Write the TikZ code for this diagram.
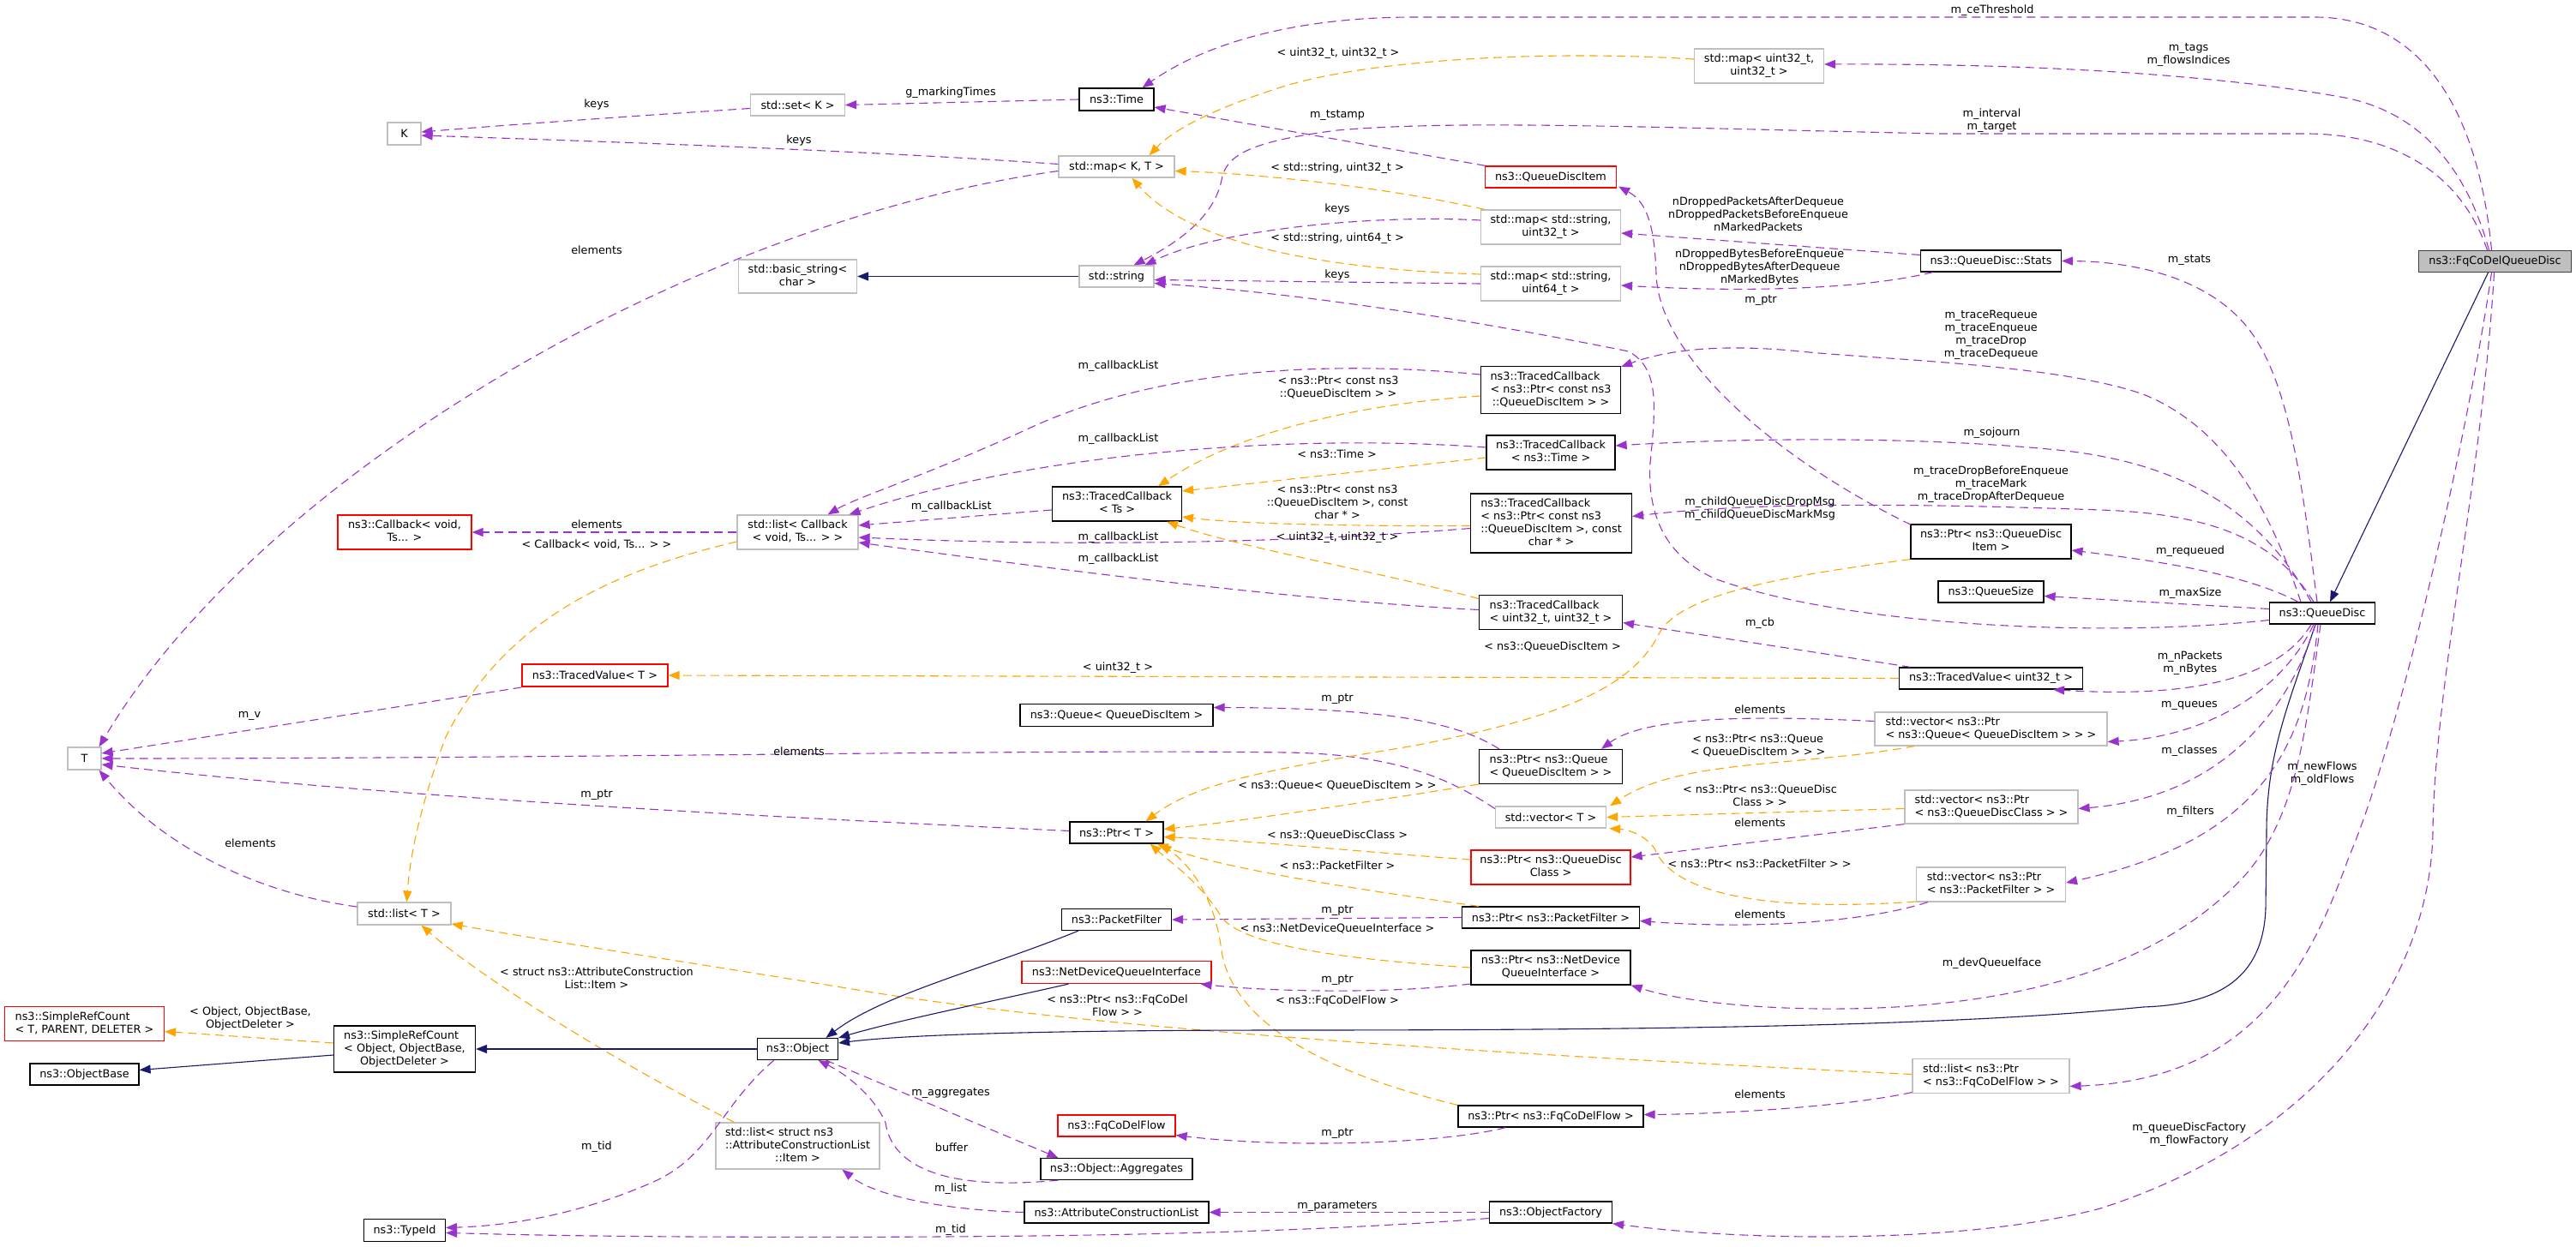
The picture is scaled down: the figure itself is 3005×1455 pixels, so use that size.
\documentclass[tikz,border=0pt]{standalone}
\usepackage{fontspec}
\setmainfont{DejaVu Sans}
\usetikzlibrary{arrows.meta}
\definecolor{purp}{HTML}{9A32CD}
\definecolor{orng}{HTML}{FFA500}
\definecolor{mnb}{HTML}{191970}
\definecolor{gbord}{HTML}{BFBFBF}
\definecolor{redb}{HTML}{FF0000}
\definecolor{fqfill}{HTML}{BFBFBF}
\definecolor{fqbord}{HTML}{404040}
\newcommand{\dxfont}{\fontsize{12.8pt}{15pt}\selectfont}
\newcommand{\twol}[2]{\begin{tabular}{@{}l@{}}#1\\\multicolumn{1}{@{}c@{}}{#2}\end{tabular}}
\newcommand{\thrl}[3]{\begin{tabular}{@{}l@{}}#1\\#2\\\multicolumn{1}{@{}c@{}}{#3}\end{tabular}}
\newcommand{\fourl}[4]{\begin{tabular}{@{}l@{}}#1\\#2\\#3\\\multicolumn{1}{@{}c@{}}{#4}\end{tabular}}
\begin{document}
\begin{tikzpicture}[x=1pt,y=-1pt,
 box/.style={rectangle, inner sep=0pt, fill=white, font=\dxfont, line width=1.2pt},
 doc/.style={box, draw=black},
 und/.style={box, draw=gbord},
 rbox/.style={box, draw=redb},
 mainbox/.style={box, draw=fqbord, fill=fqfill},
 sz/.style 2 args={minimum width=#1pt, minimum height=#2pt},
 lbl/.style={font=\dxfont, align=center, inner sep=0pt},
 usg/.style={draw=purp, line width=1.1pt, dash pattern=on 10pt off 6pt, -{Triangle[length=13pt,width=10pt]}},
 tpl/.style={draw=orng, line width=1.1pt, dash pattern=on 10pt off 6pt, -{Triangle[length=13pt,width=10pt]}},
 inh/.style={draw=mnb, line width=1.1pt, -{Triangle[length=13pt,width=10pt]}}]
\path[use as bounding box, fill=white] (0,0) rectangle (3005,1455);

% ---------------- nodes
\node[und,sz={39}{26}] (T) at (98.5,885) {T};
\node[und,sz={39}{26}] (K) at (471.5,156) {K};
\node[und,sz={110}{25}] (set) at (930.5,122.5) {std::set< K >};
\node[doc,sz={87}{26}] (time) at (1302.5,116) {ns3::Time};
\node[und,sz={135}{25}] (mapKT) at (1302.5,194.5) {std::map< K, T >};
\node[und,sz={138}{39}] (bstr) at (930.5,322.5) {\twol{std::basic\_string<}{char >}};
\node[und,sz={87}{25}] (str) at (1302.5,322.5) {std::string};
\node[und,sz={151}{40}] (mapuu) at (2052,77) {\twol{std::map< uint32\_t,}{uint32\_t >}};
\node[rbox,sz={153}{25}] (qdi) at (1809,206.5) {ns3::QueueDiscItem};
\node[und,sz={163}{40}] (mapsu) at (1809,265) {\twol{std::map< std::string,}{uint32\_t >}};
\node[und,sz={163}{40}] (mapsl) at (1809,331) {\twol{std::map< std::string,}{uint64\_t >}};
\node[doc,sz={163}{55}] (tcqdi) at (1809,455) {\thrl{ns3::TracedCallback}{< ns3::Ptr< const ns3}{::QueueDiscItem > >}};
\node[doc,sz={164}{25}] (stats) at (2322.5,304.5) {ns3::QueueDisc::Stats};
\node[mainbox,sz={178}{25}] (fq) at (2910.5,305) {ns3::FqCoDelQueueDisc};
\node[rbox,sz={156}{40}] (cb) at (472,621) {\twol{ns3::Callback< void,}{Ts... >}};
\node[rbox,sz={170}{26}] (tvT) at (694,788) {ns3::TracedValue< T >};
\node[und,sz={141}{40}] (list) at (930.5,621) {\twol{std::list< Callback}{< void, Ts... > >}};
\node[doc,sz={151}{40}] (tcTs) at (1303,588) {\twol{ns3::TracedCallback}{< Ts >}};
\node[doc,sz={225}{26}] (queue) at (1302.5,834.5) {ns3::Queue< QueueDiscItem >};
\node[doc,sz={109}{25}] (ptrT) at (1302.5,971.5) {ns3::Ptr< T >};
\node[doc,sz={150}{40}] (tctime) at (1809,528) {\twol{ns3::TracedCallback}{< ns3::Time >}};
\node[doc,sz={188}{69}] (tcchar) at (1809.5,610.5) {\fourl{ns3::TracedCallback}{< ns3::Ptr< const ns3}{::QueueDiscItem >, const}{char * >}};
\node[doc,sz={167}{40}] (tcuu) at (1809,714.5) {\twol{ns3::TracedCallback}{< uint32\_t, uint32\_t >}};
\node[doc,sz={167}{40}] (ptrq) at (1809,894.5) {\twol{ns3::Ptr< ns3::Queue}{< QueueDiscItem > >}};
\node[und,sz={129}{25}] (vecT) at (1809,953.5) {std::vector< T >};
\node[und,sz={271}{39}] (vecq) at (2322.5,850.5) {\twol{std::vector< ns3::Ptr}{< ns3::Queue< QueueDiscItem > > >}};
\node[doc,sz={187}{40}] (ptrqdi) at (2322.5,632) {\twol{ns3::Ptr< ns3::QueueDisc}{Item >}};
\node[doc,sz={214}{25}] (tvu) at (2322.5,791.5) {ns3::TracedValue< uint32\_t >};
\node[und,sz={202}{39}] (vecqdc) at (2323,941.5) {\twol{std::vector< ns3::Ptr}{< ns3::QueueDiscClass > >}};
\node[doc,sz={123}{25}] (qsize) at (2322.5,690.5) {ns3::QueueSize};
\node[doc,sz={123}{25}] (qd) at (2709,715.5) {ns3::QueueDisc};
\node[und,sz={109}{26}] (listT) at (471.5,1066) {std::list< T >};
\node[rbox,sz={186}{40}] (srcT) at (98.5,1194.5) {\twol{ns3::SimpleRefCount}{< T, PARENT, DELETER >}};
\node[doc,sz={165}{54}] (srcO) at (472,1224) {\thrl{ns3::SimpleRefCount}{< Object, ObjectBase,}{ObjectDeleter >}};
\node[doc,sz={127}{25}] (objbase) at (98.5,1253.5) {ns3::ObjectBase};
\node[doc,sz={95}{26}] (typeid) at (472,1435.5) {ns3::TypeId};
\node[doc,sz={128}{25}] (pf) at (1302.5,1073) {ns3::PacketFilter};
\node[rbox,sz={221}{26}] (ndqi) at (1302.5,1134.5) {ns3::NetDeviceQueueInterface};
\node[doc,sz={94}{25}] (obj) at (930.5,1224) {ns3::Object};
\node[rbox,sz={137}{25}] (fcf) at (1302.5,1313.5) {ns3::FqCoDelFlow};
\node[und,sz={191}{54}] (acli) at (930.5,1337) {\thrl{std::list< struct ns3}{::AttributeConstructionList}{::Item >}};
\node[doc,sz={177}{25}] (aggr) at (1302.5,1364) {ns3::Object::Aggregates};
\node[doc,sz={215}{25}] (acl) at (1302.5,1414.5) {ns3::AttributeConstructionList};
\node[rbox,sz={186}{40}] (ptrqdc) at (1809,1012) {\twol{ns3::Ptr< ns3::QueueDisc}{Class >}};
\node[doc,sz={207}{25}] (ptrpf) at (1809,1070.5) {ns3::Ptr< ns3::PacketFilter >};
\node[doc,sz={186}{40}] (ptrndqi) at (1809,1129) {\twol{ns3::Ptr< ns3::NetDevice}{QueueInterface >}};
\node[und,sz={183}{40}] (listfcf) at (2322.5,1255.5) {\twol{std::list< ns3::Ptr}{< ns3::FqCoDelFlow > >}};
\node[doc,sz={216}{25}] (ptrfcf) at (1809,1302.5) {ns3::Ptr< ns3::FqCoDelFlow >};
\node[doc,sz={143}{25}] (of) at (1809,1414.5) {ns3::ObjectFactory};
\node[und,sz={174}{40}] (vecpf) at (2322.5,1032) {\twol{std::vector< ns3::Ptr}{< ns3::PacketFilter > >}};

% ---------------- edges
\draw[usg] (time.west) -- (set.east);
\draw[usg] ([yshift=-4pt]set.west) .. controls (760,134) and (600,145) .. ([yshift=2pt]K.east);
\draw[usg] ([yshift=3pt]mapKT.west) .. controls (1000,175) and (700,165) .. ([yshift=-2pt]K.east);
\draw[usg] ([yshift=-5pt]mapKT.west) .. controls (800,260) and (300,560) .. ([xshift=-3pt]T.north east);
\draw[inh] (str.west) -- (bstr.east);
\draw[usg] ([xshift=-4pt]fq.north) .. controls (2890,120) and (2820,20) .. (2700,20) -- (1650,20) .. controls (1500,20) and (1400,55) .. ([xshift=30pt]time.north);
\draw[usg] ([xshift=-7pt]fq.north) .. controls (2870,170) and (2800,125) .. (2730,113) .. controls (2600,90) and (2400,74) .. ([yshift=2pt]mapuu.east);
\draw[usg] ([xshift=-9pt]fq.north) .. controls (2870,200) and (2790,156) .. (2690,156) -- (2260,156) .. controls (1900,148) and (1700,140) .. (1560,152) .. controls (1460,165) and (1430,180) .. (1425,210) .. controls (1415,260) and (1360,290) .. ([xshift=20pt]str.north);
\draw[usg] ([xshift=1pt]qdi.north west) -- ([yshift=-9pt]time.east);
\draw[tpl] ([yshift=8pt]mapuu.west) .. controls (1800,58) and (1600,70) .. (1500,100) .. controls (1420,125) and (1370,150) .. ([xshift=38pt]mapKT.north);
\draw[tpl] ([xshift=5pt]mapsu.north west) .. controls (1600,215) and (1450,202) .. ([yshift=-5pt]mapKT.east);
\draw[tpl] ([yshift=11pt]mapsl.west) .. controls (1480,312) and (1370,265) .. ([xshift=18pt]mapKT.south);
\draw[usg] ([yshift=8pt]mapsu.west) .. controls (1600,250) and (1420,268) .. ([xshift=33pt]str.north);
\draw[usg] (mapsl.west) -- ([yshift=-4pt]str.east);
\draw[usg] ([yshift=-8pt]qd.west) .. controls (2450,745) and (2150,730) .. (2000,675) .. controls (1935,645) and (1922,590) .. (1925,540) .. controls (1932,470) and (1935,430) .. (1900,410) .. controls (1750,380) and (1550,345) .. ([yshift=-8pt]str.east);
\draw[usg] ([xshift=1pt,yshift=-1pt]ptrqdi.north west) .. controls (2080,540) and (1935,420) .. (1932,320) .. controls (1930,260) and (1920,235) .. ([xshift=2pt,yshift=2pt]qdi.south east);
\draw[usg] ([yshift=7pt]stats.west) -- ([yshift=-7pt]mapsu.east);
\draw[usg] ([xshift=15pt]stats.south west) .. controls (2180,336) and (2050,342) .. ([yshift=-2pt]mapsl.east);
\draw[usg] ([xshift=-6pt]qd.north) .. controls (2685,560) and (2670,440) .. (2620,380) .. controls (2570,320) and (2480,305) .. (stats.east);
\draw[usg] ([xshift=-25pt]qd.north) .. controls (2650,600) and (2600,500) .. (2500,460) .. controls (2400,425) and (2200,420) .. (2100,410) .. controls (2000,400) and (1940,410) .. ([yshift=-1pt]tcqdi.north east);
\draw[usg] ([yshift=18pt]tcqdi.west) .. controls (1550,420) and (1350,430) .. (1200,500) .. controls (1080,555) and (1000,580) .. ([xshift=35pt]list.north);
\draw[tpl] ([yshift=-7pt]tcqdi.west) .. controls (1600,470) and (1450,500) .. ([xshift=48pt]tcTs.north);
\draw[usg] ([yshift=6pt]tctime.west) .. controls (1500,505) and (1200,530) .. ([xshift=60pt]list.north);
\draw[tpl] ([yshift=-6pt]tctime.west) -- ([yshift=15pt]tcTs.east);
\draw[usg] ([yshift=-6pt]tcchar.west) .. controls (1550,630) and (1300,640) .. ([yshift=-6pt]list.east);
\draw[tpl] ([yshift=-3pt]tcchar.west) .. controls (1600,614) and (1450,612) .. ([yshift=-15pt]tcTs.east);
\draw[usg] ([yshift=3pt]tcuu.west) .. controls (1500,700) and (1200,660) .. ([yshift=-12pt]list.east);
\draw[tpl] ([yshift=16pt]tcuu.west) .. controls (1600,665) and (1450,640) .. ([xshift=58pt]tcTs.south);
\draw[usg] ([yshift=-7pt]tcTs.west) -- ([yshift=8pt]list.east);
\draw[usg] (list.west) -- (cb.east);
\draw[tpl] ([yshift=-11pt]list.west) .. controls (720,665) and (590,720) .. (520,860) .. controls (490,940) and (478,1000) .. ([xshift=3pt]listT.north);
\draw[usg] ([yshift=8pt]listT.west) .. controls (320,1045) and (200,1000) .. ([xshift=-3pt]T.south east);
\draw[usg] ([yshift=-14pt]tvT.west) -- ([yshift=6pt]T.east);
\draw[usg] ([yshift=10pt]vecT.west) .. controls (1700,915) and (1640,880) .. (1500,878) .. controls (1200,874) and (700,885) .. (T.east);
\draw[usg] ([yshift=2pt]ptrT.west) .. controls (1000,958) and (500,935) .. ([yshift=-7pt]T.east);
\draw[tpl] (tvu.west) -- (tvT.east);
\draw[usg] ([xshift=14pt]tvu.north west) -- ([yshift=-12pt]tcuu.east);
\draw[usg] ([xshift=24pt]ptrq.north west) .. controls (1700,843) and (1620,826) .. ([yshift=9pt]queue.east);
\draw[tpl] (ptrq.south west) .. controls (1600,935) and (1450,958) .. ([yshift=4pt]ptrT.east);
\draw[tpl] (ptrqdi.south west) .. controls (2100,670) and (1960,690) .. (1935,740) .. controls (1900,810) and (1800,840) .. (1650,870) .. controls (1500,895) and (1400,910) .. ([xshift=34pt]ptrT.north);
\draw[usg] ([yshift=9pt]vecq.west) .. controls (2050,835) and (1920,835) .. ([xshift=59pt]ptrq.north);
\draw[tpl] ([xshift=47pt]vecq.south west) .. controls (2100,895) and (1960,885) .. ([xshift=4pt]vecT.north east);
\draw[tpl] ([yshift=-2pt]vecqdc.west) -- (vecT.east);
\draw[tpl] ([yshift=-20pt]vecpf.west) .. controls (2050,1065) and (1950,1040) .. (1930,990) .. controls (1920,975) and (1900,968) .. ([xshift=3pt]vecT.south east);
\draw[usg] (vecqdc.south west) -- ([yshift=12pt]ptrqdc.east);
\draw[usg] ([xshift=14pt]vecpf.south west) .. controls (2180,1075) and (2050,1085) .. ([yshift=-4pt]ptrpf.east);
\draw[tpl] ([yshift=9pt]ptrqdc.west) .. controls (1600,995) and (1450,980) .. ([yshift=-5pt]ptrT.east);
\draw[usg] (ptrpf.west) -- (pf.east);
\draw[tpl] ([xshift=20pt]ptrpf.north west) .. controls (1600,1040) and (1430,1015) .. ([xshift=-8pt]ptrT.south east);
\draw[usg] ([yshift=-19pt]ptrndqi.west) .. controls (1620,1160) and (1480,1157) .. ([xshift=-13pt]ndqi.south east);
\draw[tpl] (ptrndqi.west) .. controls (1580,1120) and (1450,1105) .. (1425,1070) .. controls (1400,1030) and (1370,1010) .. ([xshift=-16pt]ptrT.south east);
\draw[usg] ([xshift=56pt]ptrfcf.south west) .. controls (1680,1335) and (1500,1340) .. ([yshift=-11pt]fcf.east);
\draw[tpl] (ptrfcf.north west) .. controls (1560,1255) and (1440,1200) .. (1425,1110) .. controls (1418,1050) and (1390,1010) .. ([xshift=-4pt]ptrT.south east);
\draw[usg] ([yshift=-19pt]listfcf.west) .. controls (2150,1292) and (2000,1300) .. ([yshift=2pt]ptrfcf.east);
\draw[tpl] ([yshift=2pt]listfcf.west) .. controls (1800,1232) and (1300,1205) .. (1000,1155) .. controls (800,1122) and (650,1100) .. ([yshift=-12pt]listT.east);
\draw[tpl] ([xshift=22pt]acli.north west) .. controls (720,1240) and (560,1140) .. ([xshift=20pt]listT.south);
\draw[tpl] ([yshift=7pt]srcO.west) -- ([yshift=-9pt]srcT.east);
\draw[inh] ([yshift=-7pt]srcO.west) -- ([yshift=5pt]objbase.east);
\draw[inh] (obj.west) -- (srcO.east);
\draw[inh] ([xshift=20pt]pf.south west) .. controls (1150,1130) and (1030,1160) .. ([xshift=33pt]obj.north);
\draw[inh] ([xshift=55pt]ndqi.south west) .. controls (1150,1170) and (1050,1190) .. (obj.north east);
\draw[inh] ([xshift=-8pt]qd.south) .. controls (2670,820) and (2644,880) .. (2644,970) -- (2643,1060) .. controls (2640,1140) and (2590,1172) .. (2500,1175) .. controls (2300,1195) and (2000,1202) .. (1500,1202) .. controls (1200,1202) and (1050,1208) .. ([yshift=7pt]obj.east);
\draw[inh] ([xshift=-8pt]fq.south) -- ([xshift=9pt]qd.north);
\draw[usg] ([xshift=20pt]obj.south west) .. controls (840,1290) and (830,1350) .. (760,1380) .. controls (680,1415) and (600,1430) .. ([yshift=3pt]typeid.east);
\draw[usg] ([yshift=-7pt]of.west) .. controls (1500,1440) and (1200,1445) .. (800,1443) .. controls (650,1442) and (580,1440) .. ([yshift=-3pt]typeid.east);
\draw[usg] ([xshift=33pt]obj.south) -- ([xshift=21pt]aggr.north west);
\draw[usg] ([xshift=21pt]aggr.south west) .. controls (1100,1390) and (1040,1360) .. (1033,1310) .. controls (1020,1280) and (990,1255) .. ([xshift=24pt]obj.south);
\draw[usg] (acl.west) .. controls (1100,1412) and (1020,1395) .. ([xshift=52pt]acli.south);
\draw[usg] (of.west) -- (acl.east);
\draw[usg] ([xshift=-28pt]qd.north) .. controls (2620,670) and (2520,655) .. ([yshift=-10pt]ptrqdi.east);
\draw[usg] ([yshift=5pt]qd.west) -- ([yshift=-5pt]qsize.east);
\draw[usg] ([xshift=-13pt]qd.south) .. controls (2660,790) and (2560,815) .. ([xshift=-35pt]tvu.south east);
\draw[usg] ([xshift=-10pt]qd.south) .. controls (2660,810) and (2570,860) .. ([yshift=-15pt]vecq.east);
\draw[usg] ([xshift=-8pt]qd.south) .. controls (2670,830) and (2590,930) .. ([yshift=-2pt]vecqdc.east);
\draw[usg] ([xshift=-5pt]qd.south) .. controls (2690,870) and (2640,980) .. ([yshift=2pt]vecpf.east);
\draw[usg] ([xshift=-2pt]qd.south) .. controls (2690,850) and (2680,950) .. (2620,1020) .. controls (2520,1130) and (2350,1175) .. (2150,1177) .. controls (2050,1178) and (1960,1168) .. (ptrndqi.south east);
\draw[usg] ([xshift=-4pt]fq.south) .. controls (2880,500) and (2800,860) .. (2740,1000) .. controls (2690,1140) and (2620,1260) .. ([yshift=-12pt]listfcf.east);
\draw[usg] ([xshift=-1pt]fq.south) .. controls (2895,560) and (2840,800) .. (2838,970) .. controls (2835,1150) and (2700,1330) .. (2450,1410) .. controls (2300,1450) and (2050,1450) .. (of.south east);
\draw[usg] ([xshift=-13pt]qd.north) .. controls (2640,600) and (2550,540) .. (2400,525) .. controls (2250,510) and (2050,510) .. ([yshift=8pt]tctime.east);
\draw[usg] ([xshift=-10pt]qd.north) .. controls (2660,640) and (2600,600) .. (2450,595) .. controls (2250,588) and (2050,585) .. ([yshift=8pt]tcchar.east);

% ---------------- labels
\node[lbl] (l1) at (1109,108) {g\_markingTimes};
\node[lbl] (l2) at (696,122) {keys};
\node[lbl] (l3) at (932,164) {keys};
\node[lbl] (l4) at (696,292) {elements};
\node[lbl] (l5) at (2324,12) {m\_ceThreshold};
\node[lbl] (l6) at (2553,64.5) {m\_tags\\m\_flowsIndices};
\node[lbl] (l7) at (2323.5,140.5) {m\_interval\\m\_target};
\node[lbl] (l8) at (1560,135) {m\_tstamp};
\node[lbl] (l9) at (1561,62) {< uint32\_t, uint32\_t >};
\node[lbl] (l10) at (1560,196) {< std::string, uint32\_t >};
\node[lbl] (l11) at (1560,278) {< std::string, uint64\_t >};
\node[lbl] (l12) at (1560,244) {keys};
\node[lbl] (l13) at (1560,321) {keys};
\node[lbl] (l14) at (2053,594) {m\_childQueueDiscDropMsg\\m\_childQueueDiscMarkMsg};
\node[lbl] (l15) at (2054,351) {m\_ptr};
\node[lbl] (l16) at (2051,250) {nDroppedPacketsAfterDequeue\\nDroppedPacketsBeforeEnqueue\\nMarkedPackets};
\node[lbl] (l17) at (2052.6,312) {nDroppedBytesBeforeEnqueue\\nDroppedBytesAfterDequeue\\nMarkedBytes};
\node[lbl] (l18) at (2554,304) {m\_stats};
\node[lbl] (l19) at (2322.6,390.5) {m\_traceRequeue\\m\_traceEnqueue\\m\_traceDrop\\m\_traceDequeue};
\node[lbl] (l20) at (1304.5,427) {m\_callbackList};
\node[lbl] (l21) at (1561,452.5) {< ns3::Ptr< const ns3\\::QueueDiscItem > >};
\node[lbl] (l22) at (1304.5,512) {m\_callbackList};
\node[lbl] (l23) at (1559.6,530) {< ns3::Time >};
\node[lbl] (l24) at (1304.5,627) {m\_callbackList};
\node[lbl] (l25) at (1560,586) {< ns3::Ptr< const ns3\\::QueueDiscItem >, const\\char * >};
\node[lbl] (l26) at (1304.5,652) {m\_callbackList};
\node[lbl] (l27) at (1560,627) {< uint32\_t, uint32\_t >};
\node[lbl] (l28) at (1109.7,591) {m\_callbackList};
\node[lbl] (l29) at (696,612) {elements};
\node[lbl] (l30) at (696,635.5) {< Callback< void, Ts... > >};
\node[lbl] (l31) at (292,984) {elements};
\node[lbl] (l32) at (291,835) {m\_v};
\node[lbl] (l33) at (932,877) {elements};
\node[lbl] (l34) at (696,928) {m\_ptr};
\node[lbl] (l35) at (1304,779) {< uint32\_t >};
\node[lbl] (l36) at (2053,727) {m\_cb};
\node[lbl] (l37) at (1560,816) {m\_ptr};
\node[lbl] (l38) at (1560,916) {< ns3::Queue< QueueDiscItem > >};
\node[lbl] (l39) at (1811,754) {< ns3::QueueDiscItem >};
\node[lbl] (l40) at (2053,828) {elements};
\node[lbl] (l41) at (2050.6,869.7) {< ns3::Ptr< ns3::Queue\\< QueueDiscItem > > >};
\node[lbl] (l42) at (2053,928) {< ns3::Ptr< ns3::QueueDisc\\Class > >};
\node[lbl] (l43) at (2052.6,1008) {< ns3::Ptr< ns3::PacketFilter > >};
\node[lbl] (l44) at (2053,960) {elements};
\node[lbl] (l45) at (2053,1067) {elements};
\node[lbl] (l46) at (1560,974) {< ns3::QueueDiscClass >};
\node[lbl] (l47) at (1560,1063) {m\_ptr};
\node[lbl] (l48) at (1560,1010) {< ns3::PacketFilter >};
\node[lbl] (l49) at (1560,1144) {m\_ptr};
\node[lbl] (l50) at (1560,1083) {< ns3::NetDeviceQueueInterface >};
\node[lbl] (l51) at (1560,1323) {m\_ptr};
\node[lbl] (l52) at (1560,1168) {< ns3::FqCoDelFlow >};
\node[lbl] (l53) at (2053,1277) {elements};
\node[lbl] (l54) at (1303.5,1173) {< ns3::Ptr< ns3::FqCoDel\\Flow > >};
\node[lbl] (l55) at (696,1141) {< struct ns3::AttributeConstruction\\List::Item >};
\node[lbl] (l56) at (292,1188) {< Object, ObjectBase,\\ObjectDeleter >};
\node[lbl] (l57) at (696,1338) {m\_tid};
\node[lbl] (l58) at (1109,1435) {m\_tid};
\node[lbl] (l59) at (1109,1276) {m\_aggregates};
\node[lbl] (l60) at (1110,1339) {buffer};
\node[lbl] (l61) at (1109,1387) {m\_list};
\node[lbl] (l62) at (1560,1407) {m\_parameters};
\node[lbl] (l63) at (2555,643) {m\_requeued};
\node[lbl] (l64) at (2555,692) {m\_maxSize};
\node[lbl] (l65) at (2554.7,774) {m\_nPackets\\m\_nBytes};
\node[lbl] (l66) at (2554,823) {m\_queues};
\node[lbl] (l67) at (2554,876) {m\_classes};
\node[lbl] (l68) at (2555,947) {m\_filters};
\node[lbl] (l69) at (2323.5,1124) {m\_devQueueIface};
\node[lbl] (l70) at (2709,903) {m\_newFlows\\m\_oldFlows};
\node[lbl] (l71) at (2553.7,1324) {m\_queueDiscFactory\\m\_flowFactory};
\node[lbl] (l72) at (2323.5,505) {m\_sojourn};
\node[lbl] (l73) at (2322.6,565) {m\_traceDropBeforeEnqueue\\m\_traceMark\\m\_traceDropAfterDequeue};
\end{tikzpicture}
\end{document}
